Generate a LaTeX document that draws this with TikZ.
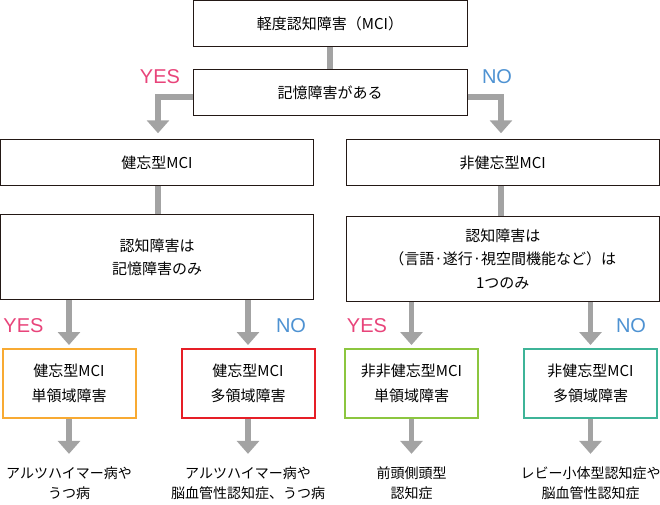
\documentclass[tikz,border=0pt]{standalone}
\usepackage{fontspec}
\setmainfont{Noto Sans CJK JP}
\newfontfamily\labelfont{Liberation Sans}
\usepackage{tikz}
\usetikzlibrary{arrows.meta,positioning}
\definecolor{boxline}{RGB}{35,24,21}
\definecolor{linegray}{RGB}{163,163,163}
\definecolor{yespink}{RGB}{232,68,122}
\definecolor{noblue}{RGB}{78,146,210}
\definecolor{typeorange}{RGB}{248,170,50}
\definecolor{typered}{RGB}{230,30,38}
\definecolor{typegreen}{RGB}{140,198,63}
\definecolor{typeteal}{RGB}{62,180,152}
\tikzstyle{question} = [rectangle, draw=boxline, line width=1pt, minimum height=45.7pt, text centered, align=center, font=\fontsize{15}{23.5}\selectfont]
\tikzstyle{typebox} = [rectangle, line width=2pt, minimum width=133pt, minimum height=69pt, text centered, align=center, font=\fontsize{15}{25}\selectfont]
\tikzstyle{result} = [inner sep=0pt, text centered, align=center, font=\fontsize{14}{20}\selectfont]
\tikzstyle{link} = [line width=5.5pt, draw=linegray, line join=miter]
\tikzstyle{arrow} = [link, -{Triangle[width=22pt,length=13pt]}]
\tikzstyle{yes} = [inner sep=0pt, text=yespink, font=\labelfont\fontsize{20}{20}\selectfont]
\tikzstyle{no} = [inner sep=0pt, text=noblue, font=\labelfont\fontsize{20}{20}\selectfont]

\begin{document}
\begin{tikzpicture}[x=1pt, y=-1pt, node distance=100pt]
\useasboundingbox (0,0) rectangle (660,504);

\node (mci) [question, minimum width=274pt] at (330,23.4) {軽度認知障害（MCI）};
\node (memq) [question, minimum width=274pt] at (330,92.6) {記憶障害がある};
\node (amn) [question, minimum width=313pt] at (157,162.6) {健忘型MCI};
\node (namn) [question, minimum width=312.5pt] at (502.75,162.6) {非健忘型MCI};
\node (sglq) [question, minimum width=313pt, minimum height=85.5pt] at (157,257.2) {認知障害は\\記憶障害のみ};
\node (mulq) [question, minimum width=312.5pt, minimum height=85.5pt] at (502.75,259) {認知障害は\\（言語·遂行·視空間機能など）は\\1つのみ};

\node (t1) [typebox, draw=typeorange] at (69,383.5) {健忘型MCI\\単領域障害};
\node (t2) [typebox, draw=typered] at (248,383.5) {健忘型MCI\\多領域障害};
\node (t3) [typebox, draw=typegreen] at (411.5,383.5) {非非健忘型MCI\\単領域障害};
\node (t4) [typebox, draw=typeteal] at (590.5,383.5) {非健忘型MCI\\多領域障害};

\node (r1) [result, below of=t1] {アルツハイマー病や\\うつ病};
\node (r2) [result, below of=t2] {アルツハイマー病や\\脳血管性認知症、うつ病};
\node (r3) [result, below of=t3] {前頭側頭型\\認知症};
\node (r4) [result, below of=t4] {レビー小体型認知症や\\脳血管性認知症};

% YES / NO
\node (y1) [yes] at (160,76.5) {YES};
\node (n1) [no] at (497,76.5) {NO};
\node (y2) [yes] at (23.5,326) {YES};
\node (n2) [no] at (291,326) {NO};
\node (y3) [yes] at (367,326) {YES};
\node (n3) [no] at (631,326) {NO};

\draw [link] (mci) -- (memq);
\draw [arrow, shorten >=6pt] ([yshift=-4.4pt]memq.west) -| ([xshift=1pt]amn.north);
\draw [arrow, shorten >=6pt] ([yshift=-4.4pt]memq.east) -| ([xshift=-1.75pt]namn.north);
\draw [link] ([xshift=1pt]amn.south) -- ([xshift=1pt]sglq.north);
\draw [link] ([xshift=-1.75pt]namn.south) -- ([xshift=-1.75pt]mulq.north);

\draw [arrow, shorten >=3pt] (sglq.south -| t1.north) -- (t1.north);
\draw [arrow, shorten >=3pt] (sglq.south -| t2.north) -- (t2.north);
\draw [arrow, shorten >=3pt] (mulq.south -| t3.north) -- (t3.north);
\draw [arrow, shorten >=3pt] (mulq.south -| t4.north) -- (t4.north);

\draw [arrow, shorten >=13pt] (t1) -- (r1);
\draw [arrow, shorten >=13pt] (t2) -- (r2);
\draw [arrow, shorten >=13pt] (t3) -- (r3);
\draw [arrow, shorten >=13pt] (t4) -- (r4);
\end{tikzpicture}
\end{document}
